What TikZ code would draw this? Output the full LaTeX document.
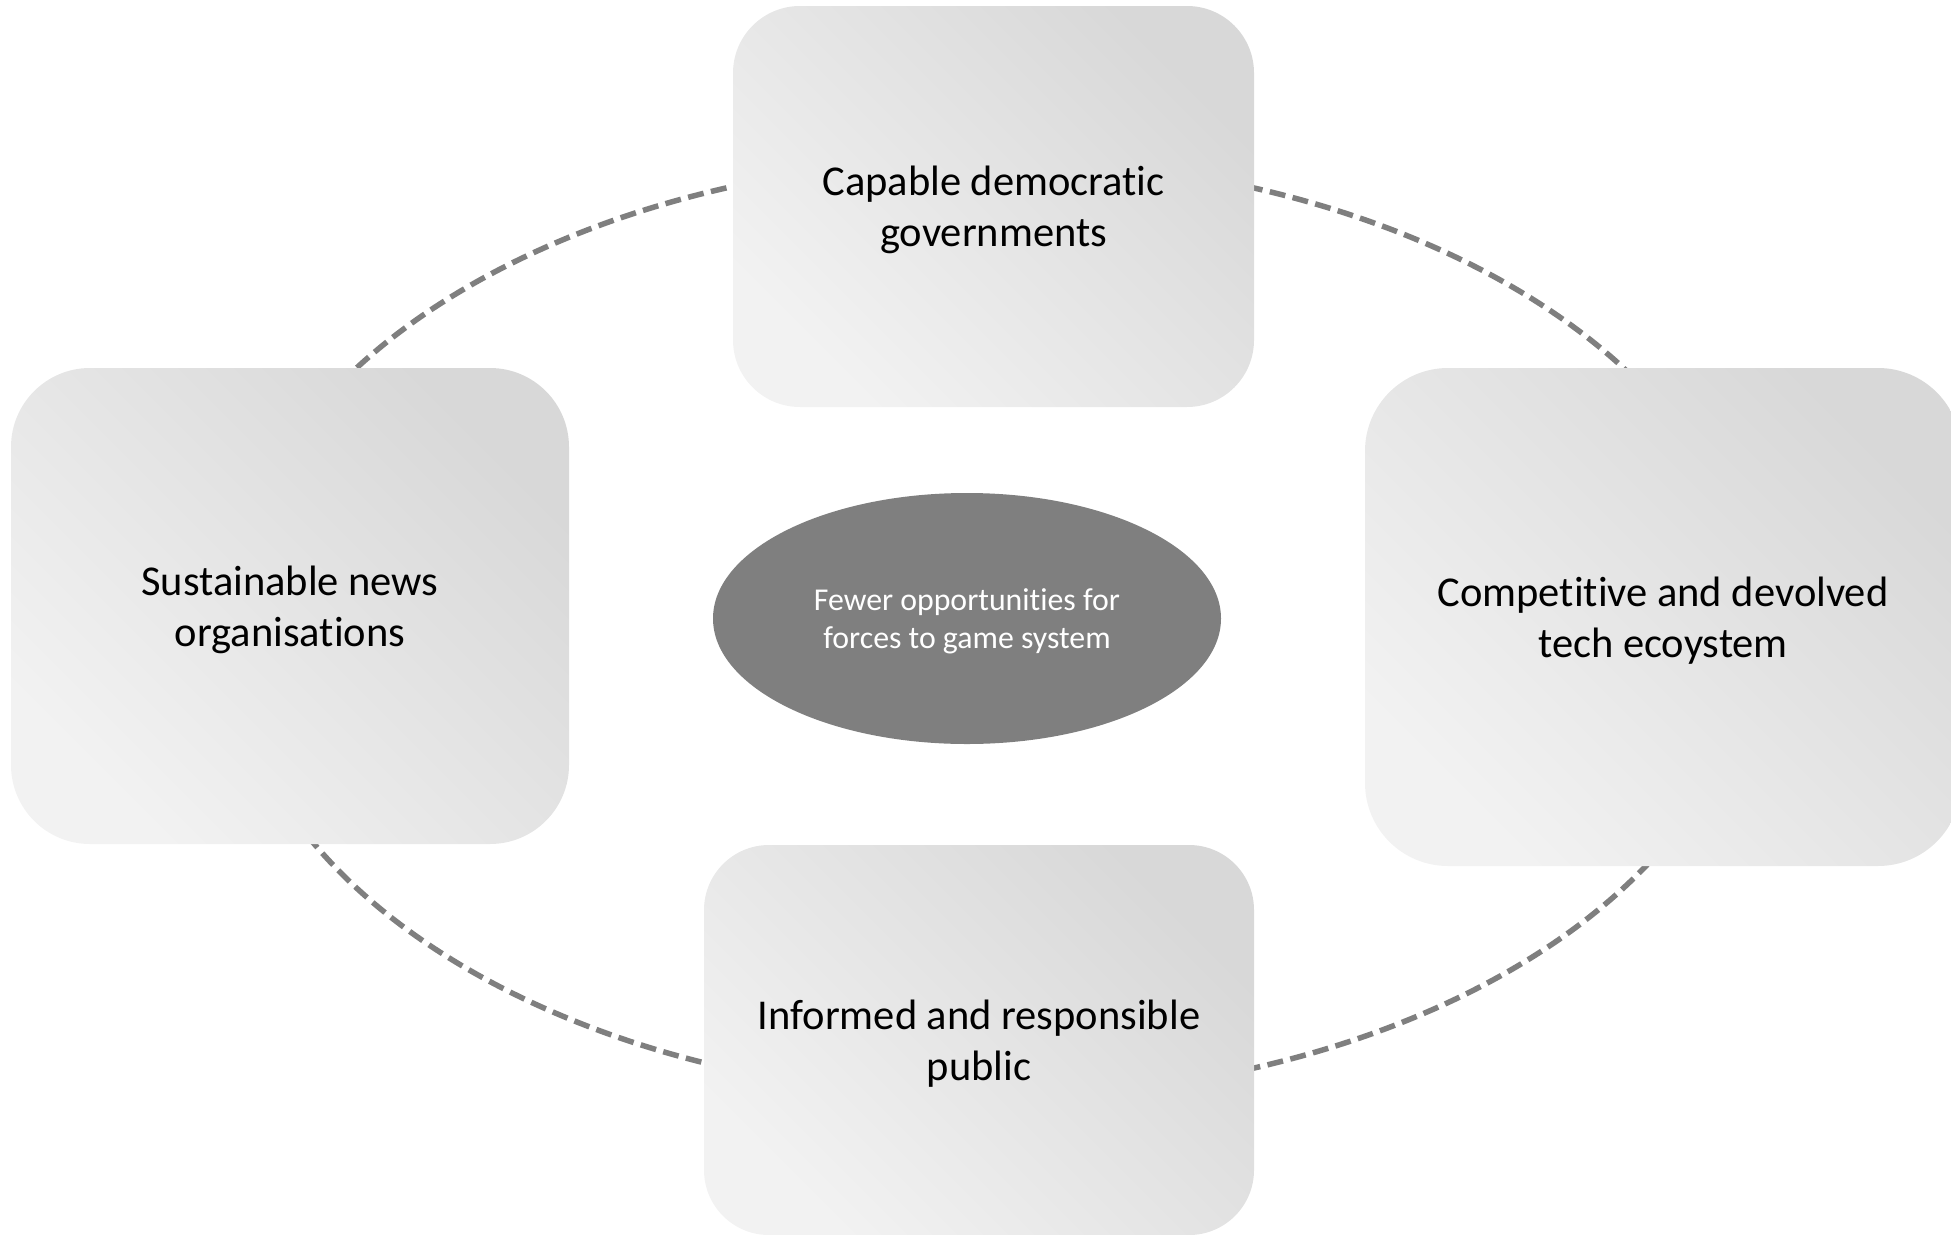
\documentclass[tikz,border=0pt]{standalone}
\usepackage{fontspec}
\setmainfont{Carlito}[Ligatures=NoCommon]
\usetikzlibrary{shapes.geometric}
\definecolor{ringgray}{HTML}{7F7F7F}
\definecolor{boxdark}{HTML}{D8D8D8}
\definecolor{boxlight}{HTML}{F2F2F2}
\begin{document}
\begin{tikzpicture}[x=1pt,y=-1pt,
  box/.style={draw=none, inner sep=0pt, align=center, text depth=-2pt,
    top color=boxdark, bottom color=boxlight, shading angle=-45,
    font=\fontsize{42.5}{51}\selectfont, text=black},
  core/.style={ellipse, draw=none, fill=ringgray, inner sep=0pt, text depth=-2pt,
    minimum width=508pt, minimum height=251pt, align=center,
    font=\fontsize{31.8}{38.6}\selectfont, text=white},
  ring/.style={draw=ringgray, line width=5.5pt, dash pattern=on 16pt off 7.5pt}]
\useasboundingbox (0,0) rectangle (1951,1234);
\clip (0,0) rectangle (1951,1234);
\coordinate (ringc) at (990,628);
\draw[ring] (ringc) ellipse [x radius=761pt, y radius=469pt];
\node[box, minimum width=521pt, minimum height=401pt, rounded corners=67pt] (gov) at (993.5,206.5) {Capable democratic\\governments};
\node[box, minimum width=558pt, minimum height=476pt, rounded corners=79pt] (news) at (290,606) {Sustainable news\\organisations};
\node[box, minimum width=596pt, minimum height=498pt, rounded corners=83pt] (tech) at (1663,617) {Competitive and devolved\\tech ecoystem};
\node[box, minimum width=550pt, minimum height=390pt, rounded corners=65pt] (pub) at (979,1040) {Informed and responsible\\public};
\node[core] (center) at (967,618.5) {Fewer opportunities for\\forces to game system};
\end{tikzpicture}
\end{document}
